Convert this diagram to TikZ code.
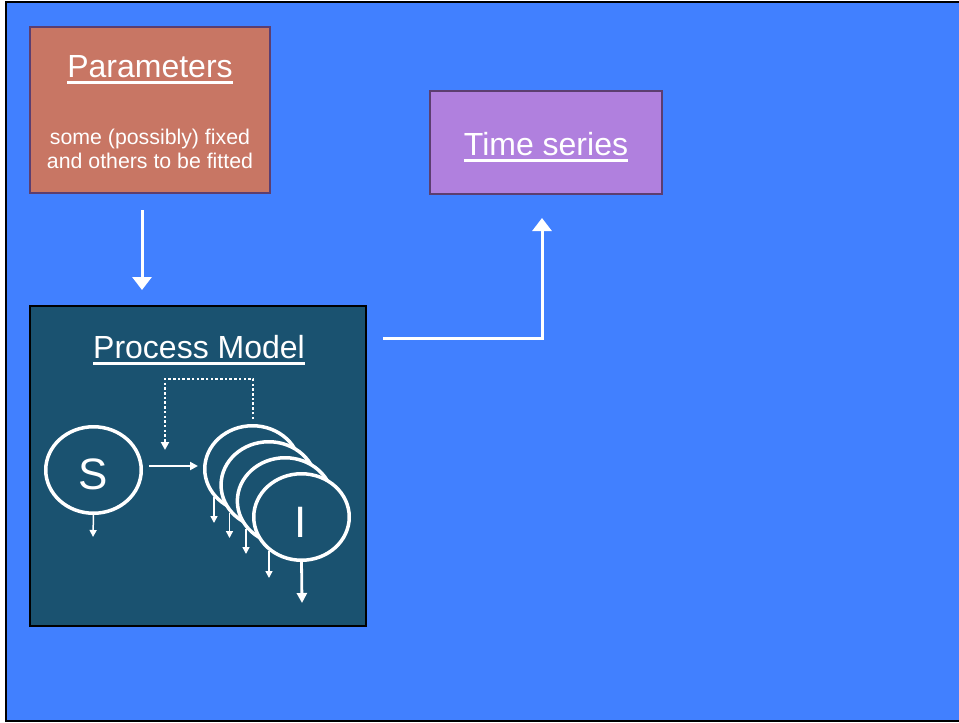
\documentclass[tikz,border=0pt]{standalone}
\usepackage{fontspec}
\setmainfont{Liberation Sans}
\usetikzlibrary{shapes.geometric,arrows.meta}
\definecolor{bgblue}{RGB}{65,128,255}
\definecolor{paramfill}{RGB}{200,118,100}
\definecolor{boxedge}{RGB}{92,62,112}
\definecolor{timefill}{RGB}{176,128,222}
\definecolor{procfill}{RGB}{26,82,112}
\newsavebox\myulbox
\newcommand\myul[1]{\sbox\myulbox{#1}\rlap{\rule[-6.5pt]{\wd\myulbox}{2.5pt}}\usebox\myulbox}
\tikzset{
  boxnode/.style={rectangle, inner sep=0pt, outer sep=0pt, line width=2pt},
  titletext/.style={anchor=base, text=white, inner sep=0pt, font=\fontsize{32}{38}\selectfont},
  subtext/.style={anchor=base, text=white, inner sep=0pt, font=\fontsize{21.3}{25}\selectfont},
  lettertext/.style={text=white, inner sep=0pt, font=\fontsize{44}{50}\selectfont},
  compart/.style={ellipse, draw=white, line width=3.5pt, fill=procfill, minimum width=95.5pt, minimum height=86.5pt, inner sep=0pt, outer sep=0pt},
  bigarrow/.style={draw=white, line width=3pt, -{Triangle[length=13pt,width=19pt]}},
  midarrow/.style={draw=white, line width=2pt, -{Triangle[length=8pt,width=8pt]}},
  smallarrow/.style={draw=white, line width=1.5pt, -{Triangle[length=7pt,width=7pt]}},
  iarrow/.style={draw=white, line width=2.8pt, -{Triangle[length=10pt,width=10pt]}},
  dotarrow/.style={draw=white, line width=2.5pt, dash pattern=on 2.5pt off 2.2pt, -{Triangle[length=8pt,width=8pt]}}
}
\begin{document}
\begin{tikzpicture}[x=1pt,y=-1pt]
\useasboundingbox (0,0) rectangle (959,723);
\fill[white] (0,0) rectangle (959,723);
\draw[line width=2pt, fill=bgblue] (6,2) rectangle (966,721);

% boxes
\node[boxnode, draw=boxedge, fill=paramfill, minimum width=240pt, minimum height=166pt] (params) at (150,110) {};
\node[boxnode, draw=boxedge, fill=timefill, minimum width=232pt, minimum height=103pt] (times) at (546,142.5) {};
\node[boxnode, draw=black, fill=procfill, minimum width=336pt, minimum height=320pt] (proc) at (198,466) {};

% texts
\node[titletext] (ptitle) at (150,77) {\myul{Parameters}};
\node[subtext] (psub1) at (150,144) {some (possibly) fixed};
\node[subtext] (psub2) at (150,168) {and others to be fitted};
\node[titletext] (ttitle) at (546,155) {\myul{Time series}};
\node[titletext] (prtitle) at (199,358) {\myul{Process Model}};

% main arrows
\coordinate (a1s) at (142,210);
\coordinate (a1e) at (142,290);
\draw[bigarrow] (a1s) -- (a1e);
\coordinate (a2s) at (383,338);
\coordinate (a2c) at (542,338);
\coordinate (a2e) at (542,218);
\draw[bigarrow] (a2s) -- (a2c) -- (a2e);

% compartments
\node[compart] (S) at (93.5,470) {};
\node[lettertext] (Slab) at (93,474) {S};
\node[compart] (I1) at (252.5,469) {};
\node[compart] (I2) at (268.8,485) {};
\node[compart] (I3) at (285.1,501) {};
\node[compart] (I4) at (301.5,517) {};
\node[lettertext] (Ilab) at (301,522) {I};

% S -> I arrow
\coordinate (si1) at (149,466);
\coordinate (si2) at (198,466);
\draw[midarrow] (si1) -- (si2);

% feedback dotted
\coordinate (fb1) at (253,419);
\coordinate (fb2) at (253,379);
\coordinate (fb3) at (165,379);
\coordinate (fb4) at (165,450);
\draw[dotarrow] (fb1) -- (fb2) -- (fb3) -- (fb4);

% outflow arrows
\coordinate (so) at (93,537);
\draw[smallarrow] (S.south) -- (so);
\coordinate (o1s) at (214,497);
\coordinate (o1e) at (214,523);
\draw[smallarrow] (o1s) -- (o1e);
\coordinate (o2s) at (229.5,513);
\coordinate (o2e) at (229.5,538);
\draw[smallarrow] (o2s) -- (o2e);
\coordinate (o3s) at (246,529);
\coordinate (o3e) at (246,554);
\draw[smallarrow] (o3s) -- (o3e);
\coordinate (o4s) at (269,551);
\coordinate (o4e) at (269,578);
\draw[smallarrow] (o4s) -- (o4e);
\coordinate (o5e) at (302,603);
\draw[iarrow] (I4.south) -- (o5e);
\end{tikzpicture}
\end{document}
